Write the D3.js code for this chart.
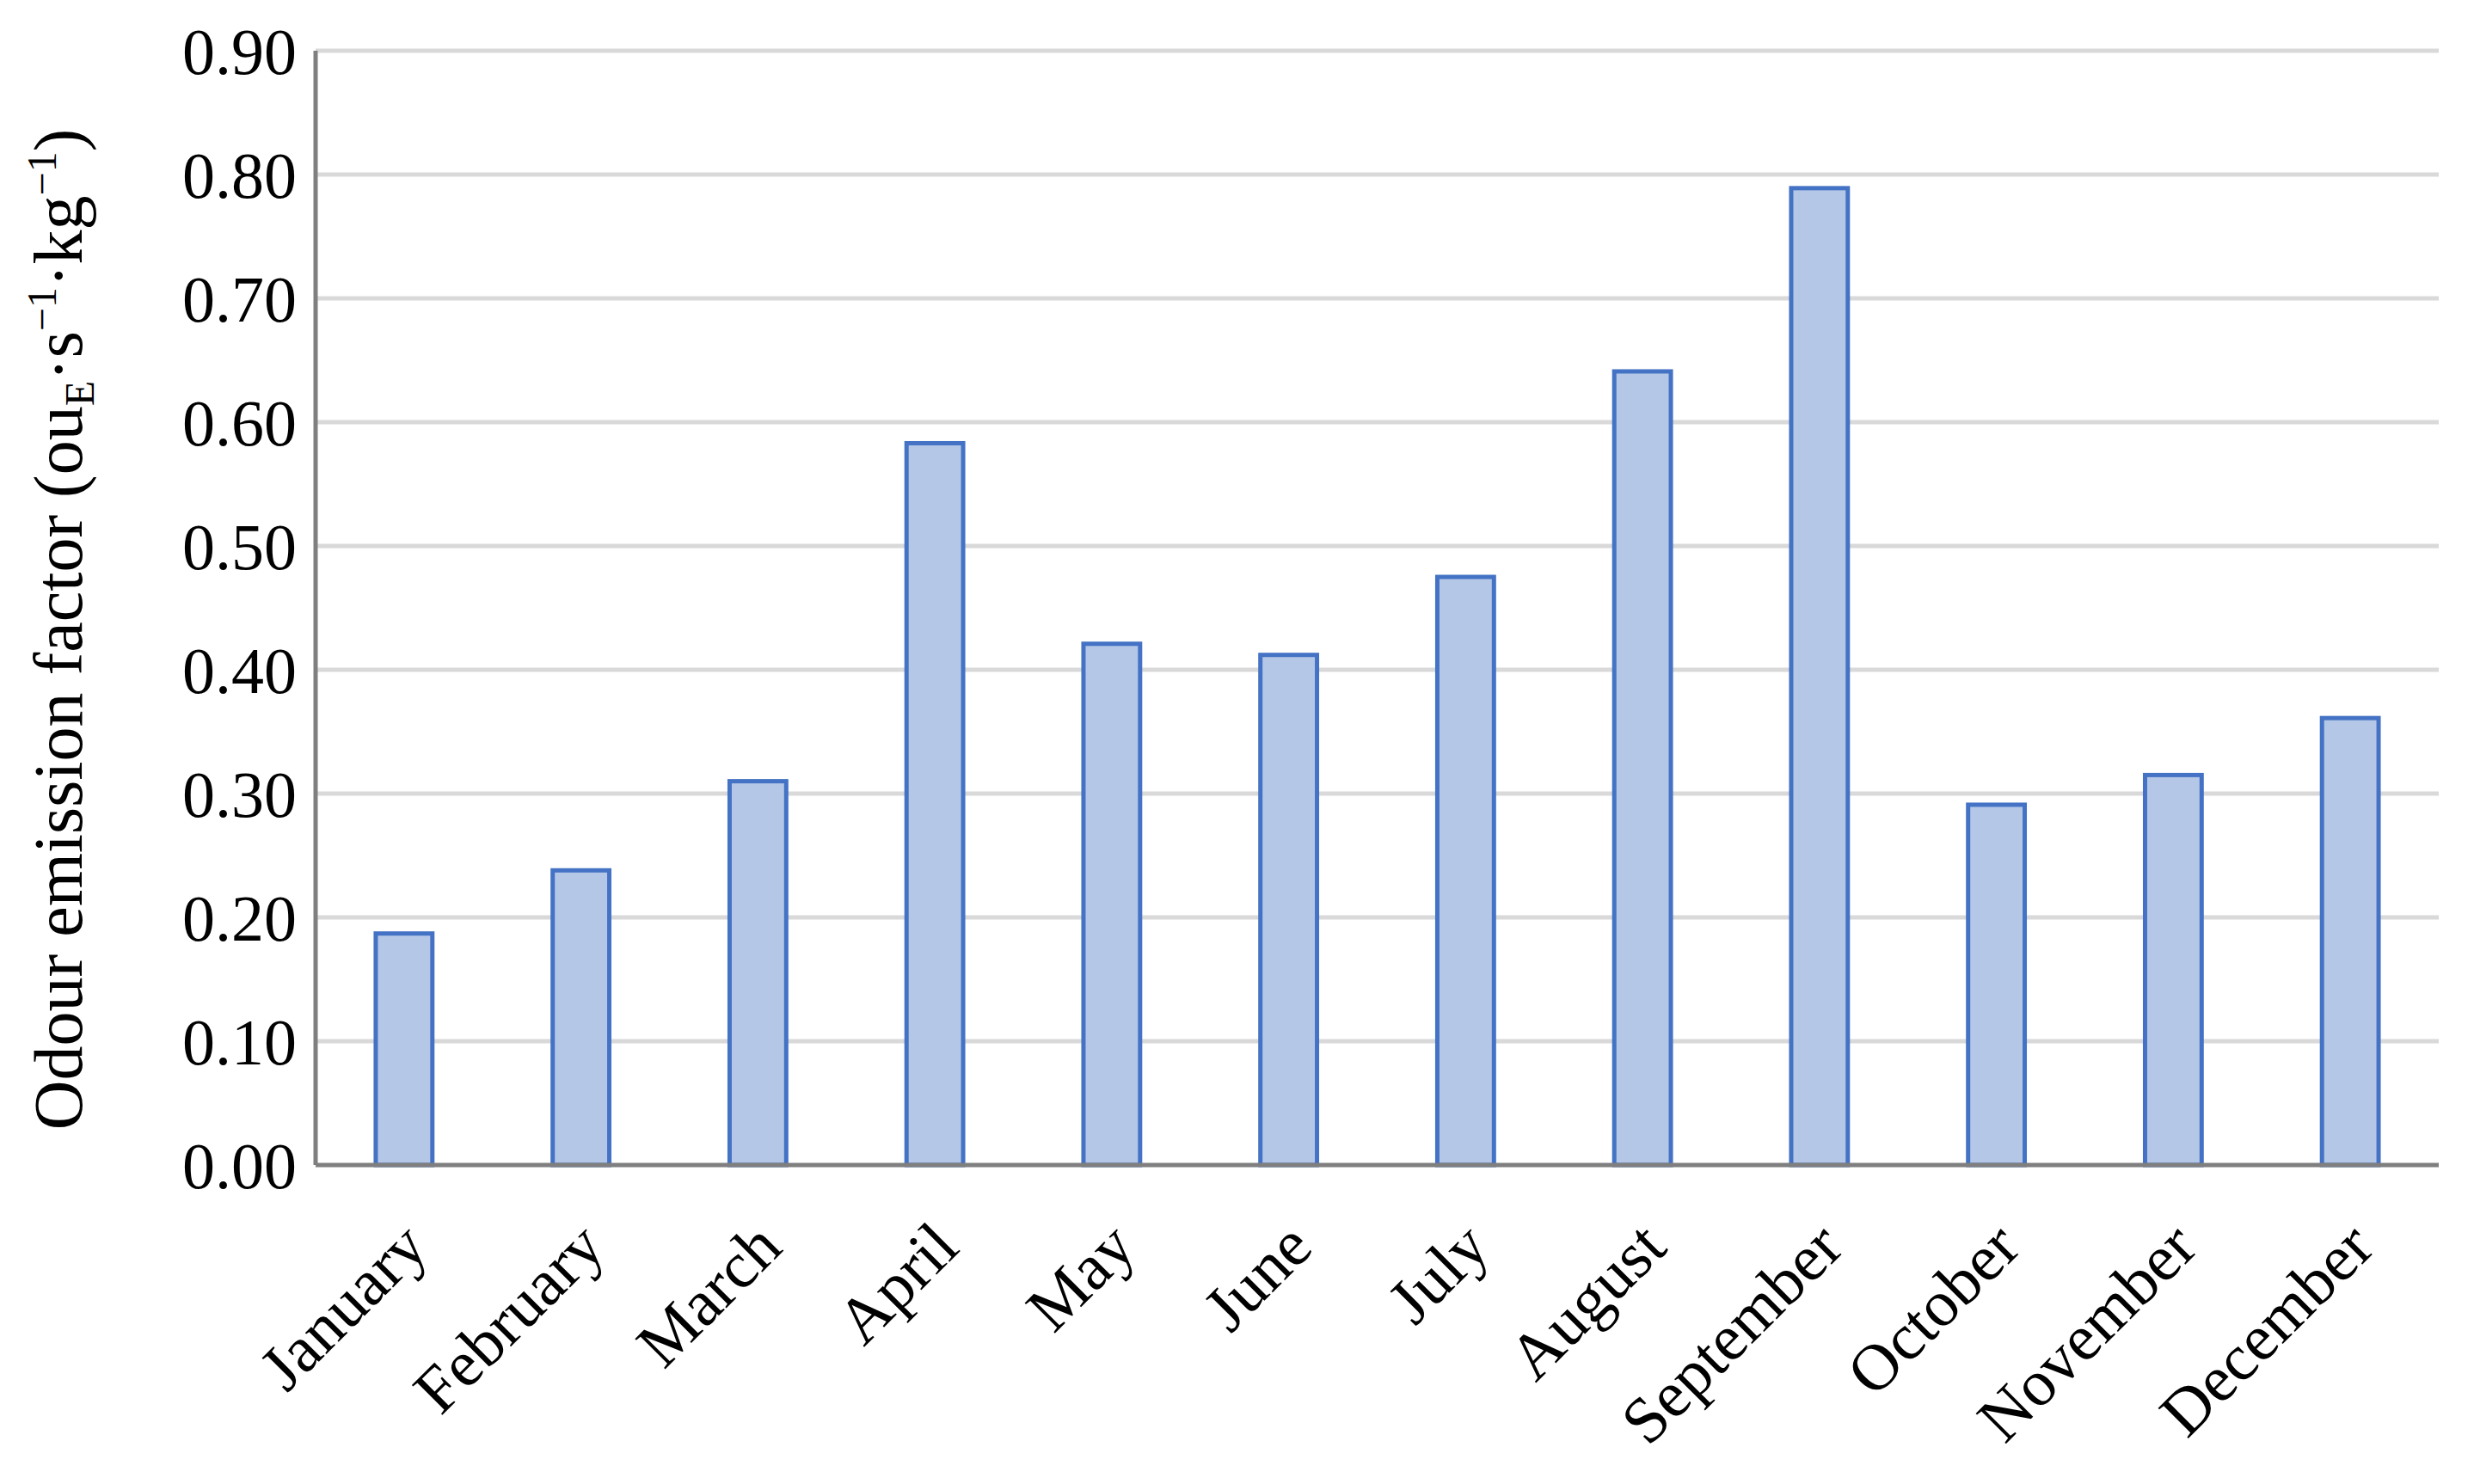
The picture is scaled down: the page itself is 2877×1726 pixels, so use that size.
<!DOCTYPE html>
<html><head><meta charset="utf-8">
<script src="https://cdn.jsdelivr.net/npm/d3@7"></script>
<style>body{margin:0;background:#fff}</style></head>
<body><svg id="c" width="2877" height="1726"></svg>
<script>
const months=["January","February","March","April","May","June","July","August","September","October","November","December"];
const values=[0.187,0.238,0.310,0.583,0.421,0.412,0.475,0.641,0.789,0.291,0.315,0.361];
const yTicks=[0,0.1,0.2,0.3,0.4,0.5,0.6,0.7,0.8,0.9];
const svg=d3.select("#c");
const L=367,R=2836,T=59,B=1355;
const x=d3.scaleBand().domain(months).range([L,R]).paddingInner(0.68).paddingOuter(0.34);
const y=d3.scaleLinear().domain([0,0.9]).range([B,T]);
const font="'Liberation Serif', serif";
svg.append("g").selectAll("line").data(yTicks.slice(1)).join("line")
 .attr("x1",L).attr("x2",R).attr("y1",d=>y(d)).attr("y2",d=>y(d))
 .attr("stroke","#d9d9d9").attr("stroke-width",5);
svg.append("g").selectAll("rect").data(values).join("rect")
 .attr("x",(d,i)=>x(months[i])).attr("width",x.bandwidth())
 .attr("y",d=>y(d)).attr("height",d=>B-y(d))
 .attr("fill","#b4c7e7").attr("stroke","#4472c4").attr("stroke-width",5);
svg.append("line").attr("x1",L).attr("x2",L).attr("y1",T).attr("y2",B).attr("stroke","#7f7f7f").attr("stroke-width",5);
svg.append("line").attr("x1",L).attr("x2",R).attr("y1",B).attr("y2",B).attr("stroke","#7f7f7f").attr("stroke-width",5);
svg.append("g").selectAll("text").data(yTicks).join("text")
 .attr("x",L-22).attr("y",d=>y(d)).attr("dy","0.35em").attr("text-anchor","end")
 .attr("font-family",font).attr("font-size",76).text(d=>d.toFixed(2));
svg.append("g").selectAll("text").data(months).join("text")
 .attr("transform",d=>`translate(${x(d)+x.bandwidth()/2+12},${B+80}) rotate(-45)`)
 .attr("text-anchor","end").attr("dy","0.35em")
 .attr("font-family",font).attr("font-size",76).text(d=>d);
const yl=svg.append("text").attr("transform",`translate(95,${(T+B)/2+25}) rotate(-90)`)
 .attr("text-anchor","middle").attr("font-family",font).attr("font-size",80);
yl.append("tspan").text("Odour emission factor (ou");
yl.append("tspan").attr("font-size",48).attr("dy",14).text("E");
yl.append("tspan").attr("dy",-14).text("·s");
yl.append("tspan").attr("font-size",48).attr("dy",-30).text("−1");
yl.append("tspan").attr("dy",30).text("·kg");
yl.append("tspan").attr("font-size",48).attr("dy",-30).text("−1");
yl.append("tspan").attr("dy",30).text(")");
</script></body></html>
